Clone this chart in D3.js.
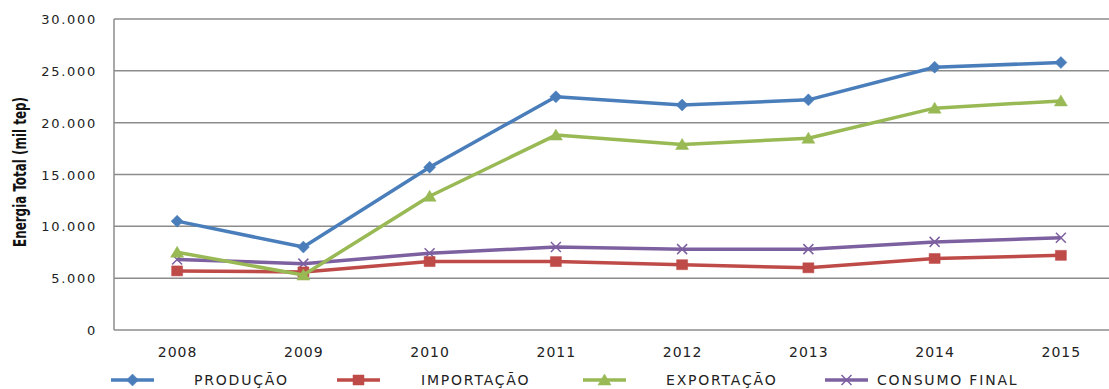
<!DOCTYPE html>
<html>
<head>
<meta charset="utf-8">
<script src="https://cdn.jsdelivr.net/npm/d3@7"></script>
<style>
  html, body { margin: 0; padding: 0; background: #fff; }
  svg { display: block; }
</style>
</head>
<body>
<svg id="chart" width="1109" height="389"></svg>
<script>
// Balanço energético, 2008–2015 (mil tep)
const years = ["2008", "2009", "2010", "2011", "2012", "2013", "2014", "2015"];
const producao   = [10500, 8000, 15700, 22500, 21700, 22200, 25350, 25800];
const importacao = [5700, 5600, 6600, 6600, 6300, 6000, 6900, 7200];
const exportacao = [7500, 5300, 12900, 18800, 17900, 18500, 21400, 22100];
const consumo    = [6800, 6400, 7400, 8000, 7800, 7800, 8500, 8900];
const yTicks = [0, 5000, 10000, 15000, 20000, 25000, 30000];
const seriesNames = ["PRODUÇÃO", "IMPORTAÇÃO", "EXPORTAÇÃO", "CONSUMO FINAL"];

const series = [
  { name: seriesNames[0], values: producao,   color: "#4A7EBB", marker: "diamond" },
  { name: seriesNames[1], values: importacao, color: "#BE4B48", marker: "square" },
  { name: seriesNames[2], values: exportacao, color: "#98B954", marker: "triangle" },
  { name: seriesNames[3], values: consumo,    color: "#7D60A0", marker: "cross" }
];

const svg = d3.select("#chart");
const plotLeft = 114, plotRight = 1124, plotTop = 19, plotBottom = 330;

const x = d3.scalePoint().domain(years).range([plotLeft, plotRight]).padding(0.5);
const y = d3.scaleLinear().domain([0, 30000]).range([plotBottom, plotTop]);

const fmt = d3.formatLocale({ decimal: ",", thousands: ".", grouping: [3], currency: ["", ""] }).format(",.0f");
const gridColor = "#8C8C8C";
const labelFont = "'DejaVu Sans', Verdana, sans-serif";

// horizontal gridlines
svg.append("g")
  .selectAll("line")
  .data(yTicks)
  .join("line")
  .attr("x1", plotLeft).attr("x2", plotRight)
  .attr("y1", d => y(d)).attr("y2", d => y(d))
  .attr("stroke", gridColor).attr("stroke-width", 1.5);

// vertical axis line
svg.append("line")
  .attr("x1", plotLeft).attr("x2", plotLeft)
  .attr("y1", y(30000)).attr("y2", y(0))
  .attr("stroke", gridColor).attr("stroke-width", 1.5);

// y tick labels
svg.append("g")
  .selectAll("text")
  .data(yTicks)
  .join("text")
  .attr("x", 97)
  .attr("y", d => y(d) + 5)
  .attr("text-anchor", "end")
  .attr("font-family", labelFont)
  .attr("font-size", 13)
  .attr("letter-spacing", 1.7)
  .attr("fill", "#222")
  .text(d => fmt(d));

// x tick labels
svg.append("g")
  .selectAll("text")
  .data(years)
  .join("text")
  .attr("x", d => x(d) + 0.5)
  .attr("y", 357)
  .attr("text-anchor", "middle")
  .attr("font-family", labelFont)
  .attr("font-size", 14)
  .attr("letter-spacing", 1)
  .attr("fill", "#222")
  .text(d => d);

// y axis title, condensed to fit beside the tick labels
svg.append("text")
  .attr("transform", "translate(26,172) rotate(-90)")
  .attr("text-anchor", "middle")
  .attr("font-family", "'Liberation Sans Narrow', 'Arial Narrow', 'DejaVu Sans Condensed', sans-serif")
  .attr("font-stretch", "condensed")
  .attr("font-weight", "bold")
  .attr("font-size", 17)
  .attr("textLength", 150)
  .attr("lengthAdjust", "spacingAndGlyphs")
  .attr("fill", "#111")
  .text("Energia Total (mil tep)");

// marker shapes
function markerPath(type) {
  switch (type) {
    case "diamond":  return "M0,-6L6,0L0,6L-6,0Z";
    case "square":   return "M-5.5,-5L5.5,-5L5.5,5L-5.5,5Z";
    case "triangle": return "M0,-6L6.5,5L-6.5,5Z";
    case "cross":    return "M-5,-5L5,5M-5,5L5,-5";
  }
}
function drawMarker(g, type, color) {
  const p = g.append("path").attr("d", markerPath(type));
  if (type === "cross") {
    p.attr("fill", "none").attr("stroke", color).attr("stroke-width", 1.5);
  } else {
    p.attr("fill", color).attr("stroke", color).attr("stroke-width", 0.5);
  }
}

const line = d3.line()
  .x((d, i) => x(years[i]))
  .y(d => y(d));

// series lines, drawn so that production stays on top
const order = [3, 1, 2, 0];
order.forEach(si => {
  const s = series[si];
  const g = svg.append("g");
  g.append("path")
    .attr("d", line(s.values))
    .attr("fill", "none")
    .attr("stroke", s.color)
    .attr("stroke-width", 3.5)
    .attr("stroke-linejoin", "round");
  s.values.forEach((v, i) => {
    const mg = g.append("g").attr("transform", `translate(${x(years[i])},${y(v)})`);
    drawMarker(mg, s.marker, s.color);
  });
});

// legend
const legendY = 380;
const legendStarts = [111, 337, 583, 825];
const legendGaps = [40, 41, 40, 9];
series.forEach((s, i) => {
  const g = svg.append("g").attr("transform", `translate(${legendStarts[i]},${legendY})`);
  g.append("line")
    .attr("x1", 0).attr("x2", 43)
    .attr("y1", 0).attr("y2", 0)
    .attr("stroke", s.color).attr("stroke-width", 3.5);
  const mg = g.append("g").attr("transform", "translate(21.5,0)");
  drawMarker(mg, s.marker, s.color);
  g.append("text")
    .attr("x", 43 + legendGaps[i])
    .attr("y", 5)
    .attr("font-family", labelFont)
    .attr("font-size", 14)
    .attr("letter-spacing", 1.8)
    .attr("fill", "#222")
    .text(s.name);
});
</script>
</body>
</html>
